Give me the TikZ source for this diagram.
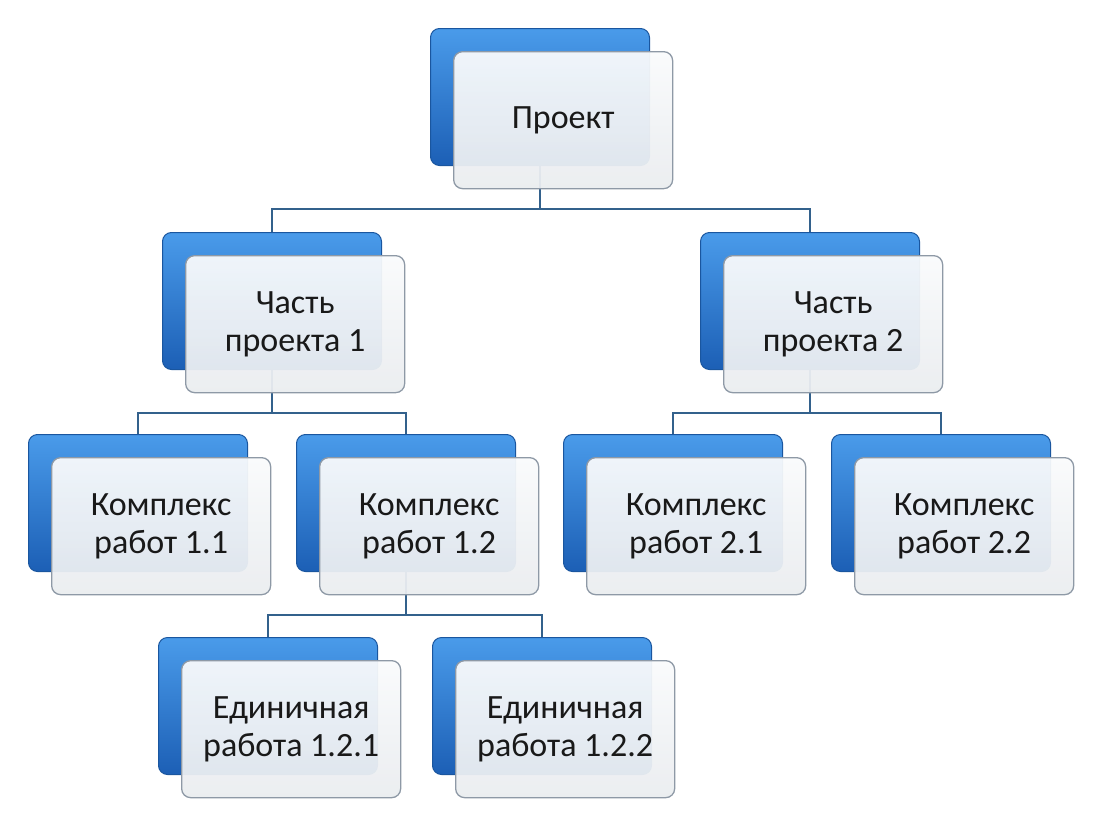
\documentclass[tikz,border=0pt]{standalone}
\usepackage{fontspec}
\setmainfont{Carlito}
\definecolor{bluetop}{HTML}{4A9BEA}
\definecolor{bluebot}{HTML}{1C5FB5}
\definecolor{blueedge}{HTML}{1A569F}
\definecolor{whtop}{HTML}{FAFBFC}
\definecolor{whbot}{HTML}{EAEDF0}
\definecolor{whedge}{HTML}{8E99A6}
\definecolor{conncol}{HTML}{33618C}
\pgfdeclarelayer{back}
\pgfdeclarelayer{bg}
\pgfsetlayers{back,bg,main}
\begin{document}
\begin{tikzpicture}[x=1pt,y=1pt,
  bluebox/.style={draw=blueedge, line width=1pt, rounded corners=9pt,
    top color=bluetop, bottom color=bluebot, minimum width=219pt,
    minimum height=137pt, anchor=north west, inner sep=0pt},
  whitebox/.style={draw=whedge, line width=1.3pt, rounded corners=9pt,
    top color=whtop, bottom color=whbot, fill opacity=0.94, text opacity=1,
    minimum width=219pt, minimum height=137pt, anchor=north west,
    inner sep=0pt, align=center, font=\fontsize{34}{38}\selectfont,
    text=black!90},
  conn/.style={draw=conncol, line width=2.7pt}]
\useasboundingbox (0,0) rectangle (1108,-822);
\begin{pgfonlayer}{back}
\fill[white] (0,0) rectangle (1108,-822);
\end{pgfonlayer}
\coordinate (y0) at (0,-209);
\coordinate (y1) at (0,-413);
\coordinate (y2) at (0,-615);
% Project
\node[bluebox] (pb) at (430,-28) {};
\node[whitebox] (p) at (453,-51) {Проект};
% Parts
\node[bluebox] (c1b) at (162,-232) {};
\node[whitebox] (c1) at (185,-255) {Часть\\проекта 1};
\node[bluebox] (c2b) at (700,-232) {};
\node[whitebox] (c2) at (723,-255) {Часть\\проекта 2};
% Complexes
\node[bluebox] (k11b) at (28,-434) {};
\node[whitebox] (k11) at (51,-457) {Комплекс\\работ 1.1};
\node[bluebox] (k12b) at (296,-434) {};
\node[whitebox] (k12) at (319,-457) {Комплекс\\работ 1.2};
\node[bluebox] (k21b) at (563,-434) {};
\node[whitebox] (k21) at (586,-457) {Комплекс\\работ 2.1};
\node[bluebox] (k22b) at (831,-434) {};
\node[whitebox] (k22) at (854,-457) {Комплекс\\работ 2.2};
% Single works
\node[bluebox] (e1b) at (158,-637) {};
\node[whitebox] (e1) at (181,-660) {Единичная\\работа 1.2.1};
\node[bluebox] (e2b) at (432,-637) {};
\node[whitebox] (e2) at (455,-660) {Единичная\\работа 1.2.2};
% connectors
\begin{pgfonlayer}{bg}
\coordinate (jp) at (pb.center |- y0);
\coordinate (jc1) at (c1b.center |- y1);
\coordinate (jc2) at (c2b.center |- y1);
\coordinate (jk12) at (k12b.center |- y2);
\draw[conn] (pb.center) -- (jp);
\draw[conn] (c1b.north) |- (jp) -| (c2b.north);
\draw[conn] (c1b.center) -- (jc1);
\draw[conn] (k11b.north) |- (jc1) -| (k12b.north);
\draw[conn] (c2b.center) -- (jc2);
\draw[conn] (k21b.north) |- (jc2) -| (k22b.north);
\draw[conn] (k12b.center) -- (jk12);
\draw[conn] (e1b.north) |- (jk12) -| (e2b.north);
\end{pgfonlayer}
\end{tikzpicture}
\end{document}
